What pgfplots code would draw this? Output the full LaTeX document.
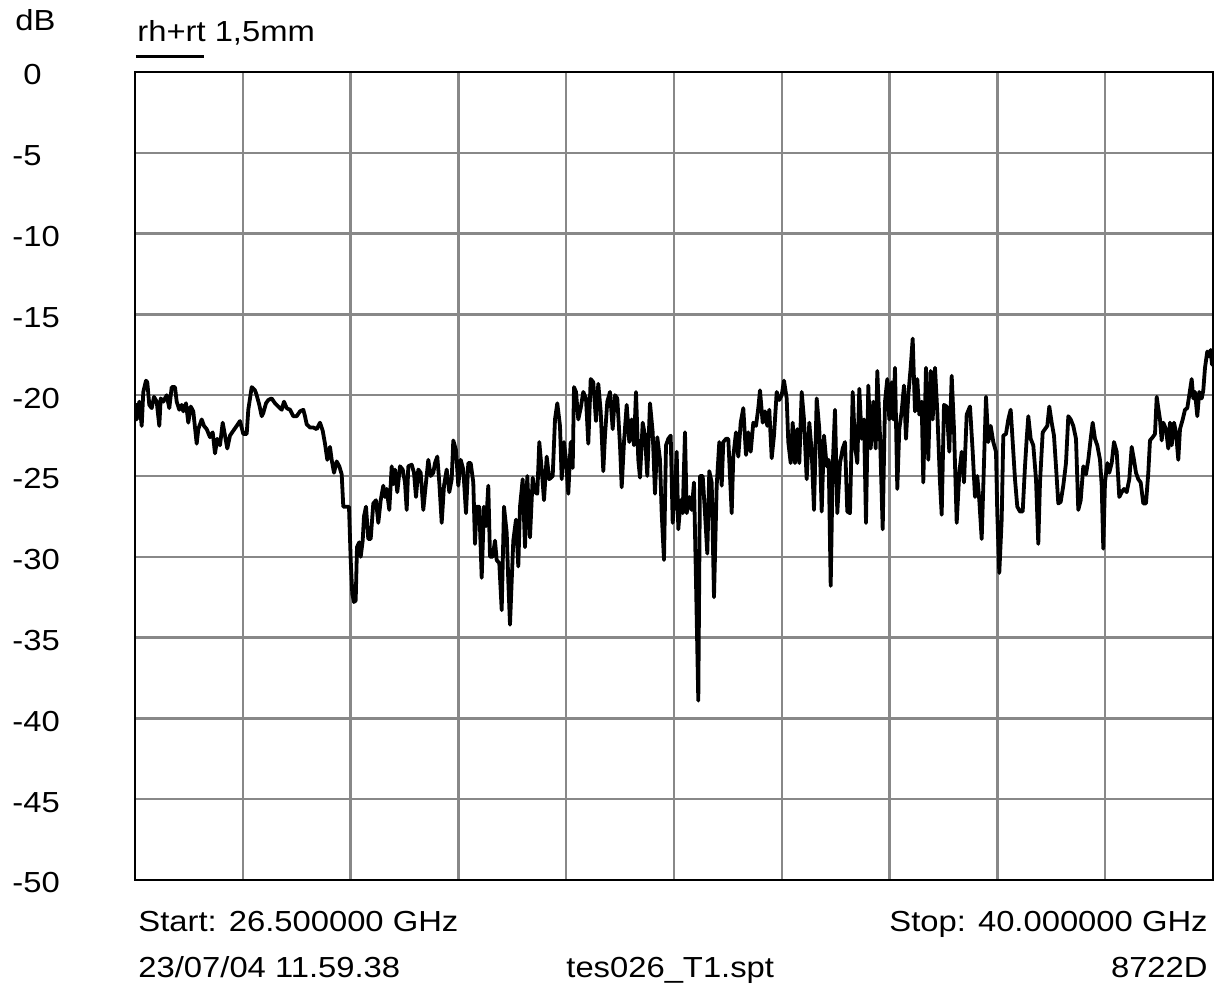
\documentclass[border=0pt]{standalone}
\usepackage{fontspec}
\setmainfont{Liberation Sans}
\usepackage{graphicx}
\usepackage{pgfplots}
\usepackage{pgfplotstable}
\pgfplotsset{compat=1.18}
\definecolor{gridgray}{RGB}{136,136,136}
\newcommand\T[1]{\scalebox{1.13}[1]{#1}}
\newcommand\F{\fontsize{14.5pt}{17pt}\selectfont}
% p = trace position (0..1078 across the 26.5-40 GHz span), db = level in dB
\pgfplotstableread{
p db
0 -20.5
1.7 -21.5
4.3 -20.4
6.7 -21.9
8.3 -19.8
11 -19.1
12.3 -19.2
14.3 -20.6
16.7 -20.8
19 -20.1
21.7 -20.4
24.3 -21.9
25.7 -20.2
28.3 -20.4
31.7 -20.0
34.3 -20.8
36.7 -19.5
40 -19.5
41.7 -20.4
44.3 -20.9
46.7 -20.6
48.3 -21.0
51 -20.5
53.3 -21.7
55.7 -20.7
58.3 -21.0
61.7 -23.0
63.3 -22.1
66.7 -21.5
69 -21.9
71.7 -22.1
75 -22.6
77.7 -22.3
80 -23.6
82.3 -22.7
85 -23.1
87.7 -21.7
90 -22.5
92.3 -23.3
95 -22.5
98.3 -22.2
101.7 -21.9
105 -21.6
108.3 -22.4
111.7 -22.4
113.3 -20.9
115 -20.2
116.7 -19.5
120 -19.7
121.7 -20.0
124.3 -20.6
126.7 -21.3
128.3 -21.1
131 -20.5
133.3 -20.3
136.7 -20.2
140 -20.5
143.3 -20.7
146.7 -20.9
149 -20.4
151.7 -20.8
155 -20.9
158.3 -21.3
161.7 -21.3
165 -21.0
168.3 -20.9
170 -21.3
171.7 -21.8
175 -22.0
178.3 -22.0
181.7 -22.1
185 -21.7
187.7 -22.2
190 -23.0
192.3 -24.0
195 -23.2
196.7 -24.0
199 -24.8
201.7 -24.1
204.3 -24.4
206.7 -24.9
208.3 -26.9
211.7 -26.9
214 -26.9
215.7 -30.2
217.3 -32.3
219 -32.8
220.7 -32.7
222 -29.4
224.3 -29.1
225.7 -30.0
227.7 -29.0
229 -27.5
231 -26.9
233.3 -28.9
235.7 -28.9
238.3 -26.7
241 -26.5
243.3 -27.9
245.7 -26.5
248.3 -25.6
250 -26.3
251.7 -25.8
254.3 -27.1
256.7 -24.4
258.3 -25.5
260 -24.6
262.3 -26.0
265 -24.4
267.7 -24.6
270 -25.4
271.7 -27.1
273.3 -24.4
276.7 -24.3
279 -24.8
281 -26.3
283.3 -24.6
285.7 -24.8
288.3 -27.1
291 -25.4
293.3 -24.0
295.7 -25.0
298.3 -24.8
300 -24.2
302.3 -23.8
304.3 -25.4
306.7 -27.9
309 -25.6
311.7 -24.6
314.3 -26.0
316.7 -25.2
318.3 -22.8
321 -23.4
323.3 -25.6
325.7 -24.0
328.3 -24.6
331 -27.3
333.3 -24.2
335.7 -24.2
338.3 -25.4
340 -29.2
341.7 -26.9
344.3 -26.9
346.7 -31.3
349 -26.9
351 -28.1
353.3 -25.6
355 -30.0
357.7 -30.0
360 -29.0
361.7 -30.2
364.3 -30.4
366.7 -33.3
369 -26.9
371.7 -28.5
373.3 -31.5
375 -34.2
376.7 -31.5
378.3 -29.0
381 -27.7
383.3 -30.6
385 -26.9
387.7 -25.2
390 -29.4
392.3 -25.0
395 -28.8
397.7 -25.1
400 -26.0
402.3 -26.1
404.3 -22.9
406.7 -24.6
409 -26.5
411.7 -23.8
414.3 -25.2
417.7 -25.0
420 -21.5
422.3 -20.5
425 -21.9
426.7 -25.2
429 -22.9
431 -24.0
433.3 -26.1
435.7 -22.9
437.7 -24.5
439 -19.5
441 -19.8
443.3 -21.5
445.7 -20.8
448.3 -19.8
451 -20.2
453.3 -23.0
455.7 -19.0
458.3 -19.2
461 -21.6
463.3 -19.3
465.7 -21.0
468.3 -24.7
470 -22.5
472.3 -20.4
475 -19.8
477.7 -22.1
480 -20.0
482.3 -20.2
485 -23.1
486.7 -25.7
489 -22.9
491.7 -20.6
494.3 -22.9
496.7 -21.5
499 -23.1
501 -19.8
503.3 -24.0
505 -25.1
507.7 -21.7
510 -22.5
512.3 -25.0
515 -20.5
517.7 -22.3
520 -26.1
522.3 -22.6
525 -24.0
526.7 -27.3
529 -30.2
531 -23.1
533.3 -22.7
535.7 -22.5
537.7 -27.9
540 -26.0
541.7 -23.5
543.3 -28.3
545.7 -26.5
547.7 -27.3
550 -22.3
551.7 -27.3
554.3 -26.3
556.7 -27.1
559 -25.4
561 -31.5
563.3 -38.9
565 -25.0
567.7 -25.0
570 -27.3
572.3 -29.8
574.3 -24.7
576.7 -25.4
579 -32.5
581.7 -25.6
584.3 -22.9
586.7 -25.6
588.3 -22.9
591 -22.7
593.3 -22.7
595 -25.0
596.7 -27.3
598.3 -23.8
601 -22.3
603.3 -23.8
605.7 -21.7
608.3 -20.8
611 -23.7
613.3 -22.3
615.7 -23.5
618.3 -21.7
621 -21.9
623.3 -20.8
625 -19.7
627.7 -21.7
630 -21.0
632.3 -21.9
634.3 -20.9
636.7 -23.9
639 -22.5
641.7 -19.8
644.3 -20.3
646.7 -20.0
649 -19.1
651.7 -20.2
653.3 -22.9
655.7 -24.2
657.7 -21.7
660 -24.2
662.3 -22.1
664.3 -24.2
666.7 -19.8
669 -21.5
671.7 -25.2
674.3 -21.7
676.7 -23.5
679 -27.1
681.7 -20.2
684.3 -22.1
686.7 -27.2
689 -22.5
691.7 -24.4
693.7 -24.0
695.7 -31.8
697.7 -24.4
700 -20.9
702.3 -27.3
705 -24.2
707.7 -23.3
710 -22.9
712.3 -27.2
715 -27.3
717.7 -19.8
720 -23.1
722.3 -24.2
724.3 -19.6
726.7 -22.7
729 -21.5
731 -27.9
733.3 -19.4
735.7 -23.3
738.3 -20.4
740.7 -23.3
742.3 -18.5
745 -22.5
747.7 -28.3
750 -20.4
752.3 -19.0
754.3 -21.5
756.7 -19.2
758.3 -21.5
760 -18.3
762.3 -25.8
764.3 -22.1
766.7 -21.0
769 -19.4
771 -22.7
773.3 -20.0
775.7 -18.3
777.7 -16.5
780 -21.0
782.3 -19.0
784.3 -21.2
786.7 -20.4
788.3 -25.4
791 -18.3
793.3 -24.0
795.7 -18.5
797.7 -21.5
800 -18.3
802.3 -21.0
805 -25.4
806.7 -27.4
809 -20.6
811.7 -20.7
814.3 -23.5
816.7 -18.8
819 -22.1
821.7 -27.9
824.3 -24.8
826.7 -23.5
829 -25.4
831.7 -21.2
835 -20.7
837.7 -23.5
840 -26.3
842.3 -25.0
844.3 -26.5
846.7 -28.9
849 -24.2
851 -20.1
853.3 -22.9
855.7 -21.9
858.3 -22.9
861 -23.5
862.3 -27.3
864.3 -31.0
866.7 -27.7
868.3 -22.5
871 -22.4
873.3 -21.5
875.7 -20.9
877.7 -22.9
880 -25.2
882.3 -26.9
885 -27.2
887.7 -27.2
890 -24.4
891.7 -22.7
893.3 -21.3
895.7 -22.7
898.3 -23.1
901 -25.2
903.3 -29.2
905 -25.4
907.7 -22.3
910 -22.1
912.3 -21.9
914.3 -20.7
916.7 -21.7
919 -22.5
921 -24.4
923.3 -26.7
925.7 -26.6
928.3 -25.6
931 -24.2
933.3 -21.3
935.7 -21.5
938.3 -21.9
941 -22.7
943.3 -27.1
945.7 -26.5
948.3 -24.4
951 -24.9
953.3 -24.0
955.7 -22.7
957.7 -21.7
960 -22.7
962.3 -23.1
965 -24.0
966.7 -25.6
968.3 -29.5
970 -25.4
972.3 -24.2
974.3 -24.8
976.7 -24.2
979 -22.9
981.7 -23.5
984.3 -26.3
986.7 -26.0
989 -25.8
991.7 -26.0
994.3 -25.2
996.7 -23.2
999 -24.0
1001 -24.8
1003.3 -25.2
1005.7 -25.4
1008.3 -26.7
1011 -26.7
1013.3 -24.8
1015 -22.8
1017.7 -22.6
1020 -22.4
1021.7 -20.1
1023.3 -20.8
1025 -21.5
1026.7 -22.8
1028.3 -21.7
1031 -22.1
1033.3 -23.3
1035 -21.7
1036.7 -23.1
1039 -21.7
1041 -22.3
1043.3 -24.0
1045 -22.1
1047.7 -21.5
1050 -20.9
1052.3 -20.8
1055 -19.7
1056.7 -19.0
1058.3 -20.2
1060 -19.8
1062.3 -21.3
1064.3 -19.8
1066.7 -20.2
1068.3 -19.7
1070 -18.3
1072.3 -17.3
1074.3 -17.6
1075.7 -17.2
1077 -18.1
1078 -18.0
}\trace
\begin{document}
\begin{tikzpicture}
\useasboundingbox (-67.5pt,-55.5pt) rectangle (544pt,440pt);
\begin{axis}[
  at={(0pt,0pt)}, anchor=south west,
  scale only axis, width=539pt, height=404pt,
  xmin=26.5, xmax=40, ymin=-50, ymax=0,
  xtick={26.5,27.85,29.2,30.55,31.9,33.25,34.6,35.95,37.3,38.65,40},
  xticklabels={},
  ytick={0,-5,-10,-15,-20,-25,-30,-35,-40,-45,-50},
  yticklabels={\T{0},\T{\llap{-}5},\T{\llap{-}10},\T{\llap{-}15},\T{\llap{-}20},\T{\llap{-}25},\T{\llap{-}30},\T{\llap{-}35},\T{\llap{-}40},\T{\llap{-}45},\T{\llap{-}50}},
  yticklabel style={font=\F, anchor=base west, inner sep=0pt, xshift=-56pt, yshift=-6.5pt},
  major tick length=0pt,
  grid=major,
  major grid style={gridgray, line width=1.2pt},
  axis line style={black, line width=1.4pt},
]
\addplot[black, line width=1.9pt, line join=round, mark=none]
  table[x expr={26.5+\thisrow{p}*13.5/1078}, y=db] {\trace};
\end{axis}
\node[font=\F, anchor=base west, inner sep=0pt] at (-60pt,424.6pt) {\T{dB}};
\node[font=\F, anchor=base west, inner sep=0pt] at (1pt,419.2pt) {\T{rh+rt 1,5mm}};
\draw[black, line width=1.2pt] (0.5pt,411.7pt) -- (34.5pt,411.7pt);
\node[font=\F, anchor=base west, inner sep=0pt] at (1.5pt,-26pt) {\T{Start: 26.500000 GHz}};
\node[font=\F, anchor=base east, inner sep=0pt] at (536.5pt,-26pt) {\T{Stop: 40.000000 GHz}};
\node[font=\F, anchor=base west, inner sep=0pt] at (1.5pt,-49pt) {\T{23/07/04 11.59.38}};
\node[font=\F, anchor=base west, inner sep=0pt] at (215.5pt,-49pt) {\T{tes026\_T1.spt}};
\node[font=\F, anchor=base east, inner sep=0pt] at (536.5pt,-49pt) {\T{8722D}};
\end{tikzpicture}
\end{document}
